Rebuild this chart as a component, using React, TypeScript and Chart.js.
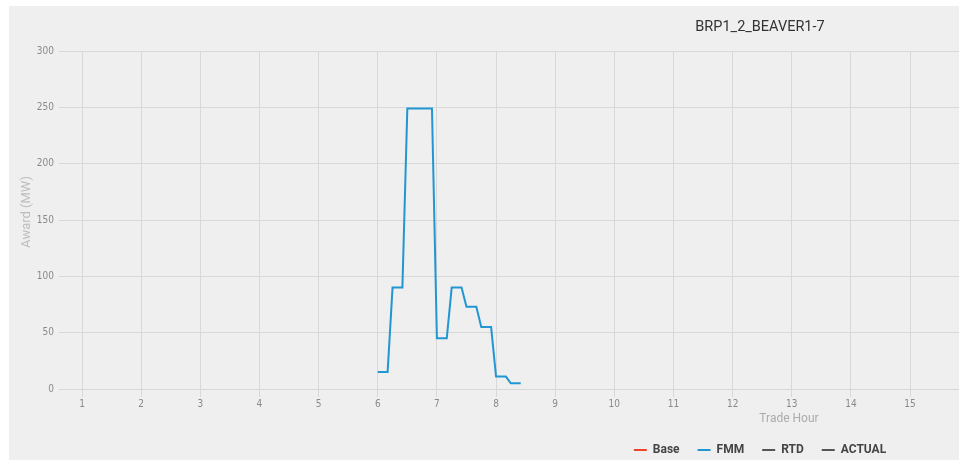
import React, { useEffect, useRef } from "react";
import { Chart, registerables } from "chart.js";

Chart.register(...registerables);

const chartTitle = "BRP1_2_BEAVER1-7";
const xAxisTitle = "Trade Hour";
const yAxisTitle = "     Award (MW)";
const seriesNames = ["Base", "FMM", "RTD", "ACTUAL"];
const seriesColors = ["#f0442a", "#2196d3", "#555555", "#555555"];

const fmmTimes = [
  "6:00", "6:05", "6:10", "6:15", "6:20", "6:25",
  "6:30", "6:35", "6:40", "6:45", "6:50", "6:55",
  "7:00", "7:05", "7:10", "7:15", "7:20", "7:25",
  "7:30", "7:35", "7:40", "7:45", "7:50", "7:55",
  "8:00", "8:05", "8:10", "8:15", "8:20", "8:25",
];
const fmmValues = [
  15, 15, 15, 90, 90, 90,
  249, 249, 249, 249, 249, 249,
  45, 45, 45, 90, 90, 90,
  73, 73, 73, 55, 55, 55,
  11, 11, 11, 5, 5, 5,
];
const baseValues: { x: number; y: number }[] = [];
const rtdValues: { x: number; y: number }[] = [];
const actualValues: { x: number; y: number }[] = [];

const xTickHours = [1, 2, 3, 4, 5, 6, 7, 8, 9, 10, 11, 12, 13, 14, 15, 16, 17, 18, 19, 20, 21, 22, 23, 24];
const yMin = 0;
const yMax = 300;
const yStep = 50;

function toHour(t: string): number {
  const [h, m] = t.split(":").map(Number);
  return h + m / 60;
}

const tickFont = { family: "'DejaVu Sans Condensed', 'Liberation Sans Narrow', sans-serif", size: 10 };

export default function App() {
  const ref = useRef<HTMLCanvasElement | null>(null);

  useEffect(() => {
    if (!ref.current) return;
    const fmmPoints = fmmTimes.map((t, i) => ({ x: toHour(t), y: fmmValues[i] }));
    const allData = [baseValues, fmmPoints, rtdValues, actualValues];
    const chart = new Chart(ref.current, {
      type: "line",
      data: {
        datasets: seriesNames.map((name, i) => ({
          label: name,
          data: allData[i],
          borderColor: seriesColors[i],
          backgroundColor: seriesColors[i],
          borderWidth: 2,
          pointRadius: 0,
          tension: 0,
          fill: false,
        })),
      },
      options: {
        animation: false,
        responsive: false,
        layout: { padding: { left: 0, right: 0, top: 0, bottom: 0 } },
        plugins: {
          title: {
            display: true,
            text: chartTitle,
            color: "#333333",
            font: { family: "Roboto, sans-serif", size: 14.5, weight: "normal" },
            padding: { top: 13, bottom: 14.6 },
          },
          legend: {
            position: "bottom",
            labels: {
              usePointStyle: true,
              pointStyle: "line",
              pointStyleWidth: 13,
              color: "#444444",
              font: { family: "Roboto, sans-serif", size: 12, weight: "bold" },
              padding: 18,
            },
          },
          tooltip: { enabled: false },
        },
        scales: {
          x: {
            type: "linear",
            min: 0.746,
            max: 25.16,
            afterBuildTicks: (scale: any) => {
              scale.ticks = xTickHours.map((v) => ({ value: v }));
            },
            afterFit: (scale: any) => {
              scale.height = 37;
            },
            ticks: {
              color: "#8a8a8a",
              font: tickFont,
              padding: 1,
              maxRotation: 0,
              autoSkip: false,
            },
            grid: { color: "#d8d8d8", tickLength: 8 },
            border: { display: false },
            title: {
              display: true,
              text: xAxisTitle,
              color: "#ababab",
              font: { family: "Roboto, sans-serif", size: 12 },
              padding: { top: 0, bottom: 0 },
            },
          },
          y: {
            min: yMin,
            max: yMax,
            afterFit: (scale: any) => {
              scale.width = 58;
            },
            ticks: {
              stepSize: yStep,
              color: "#8a8a8a",
              font: tickFont,
              padding: 5,
            },
            grid: { color: "#d8d8d8", tickLength: 8 },
            border: { display: false },
            title: {
              display: true,
              text: yAxisTitle,
              color: "#bdbdbd",
              font: { family: "Roboto, sans-serif", size: 13 },
              padding: { top: 10, bottom: 0 },
            },
          },
        },
      },
    });
    return () => chart.destroy();
  }, []);

  return (
    <div
      style={{
        position: "fixed",
        left: 9,
        top: 6,
        width: 950,
        height: 454,
        overflow: "hidden",
        background: "#efefef",
      }}
    >
      <canvas ref={ref} width={1502} height={460} style={{ display: "block" }} />
    </div>
  );
}
